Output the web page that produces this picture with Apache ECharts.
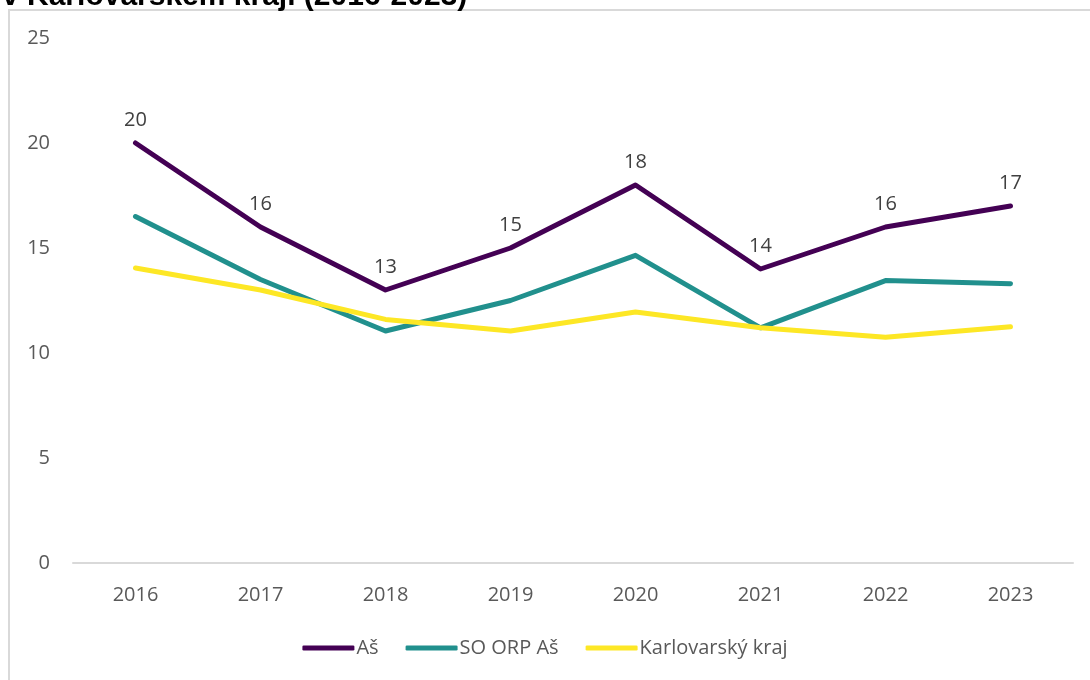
<!DOCTYPE html>
<html>
<head>
<meta charset="utf-8">
<script src="https://cdn.jsdelivr.net/npm/echarts@6/dist/echarts.min.js"></script>
<style>html,body{margin:0;padding:0;background:#fff}#c{width:1090px;height:680px}</style>
</head>
<body>
<div id="c"></div>
<script>
const titleText = 'v Karlovarském kraji (2016-2023)';
const years = ['2016','2017','2018','2019','2020','2021','2022','2023'];
const seriesNames = ['Aš', 'SO ORP Aš', 'Karlovarský kraj'];
const valAs = [20, 16, 13, 15, 18, 14, 16, 17];
const valOrp = [16.5, 13.5, 11.05, 12.5, 14.65, 11.2, 13.45, 13.3];
const valKraj = [14.05, 13.0, 11.6, 11.05, 11.95, 11.2, 10.75, 11.25];
const colors = ['#440154', '#21908d', '#fde725'];

const font = '"Open Sans", sans-serif';
const chart = echarts.init(document.getElementById('c'));
const mk = (name, data, color, labels) => ({
  name, type: 'line', data, symbol: 'circle', symbolSize: 0, showSymbol: true, smooth: false,
  lineStyle: { color, width: 5, cap: 'round', join: 'round' },
  itemStyle: { color },
  label: labels ? { show: true, position: 'top', distance: 13, color: '#404040', fontSize: 20, fontFamily: font } : { show: false },
  emphasis: { disabled: true }
});
chart.setOption({
  animation: false,
  backgroundColor: '#fff',
  graphic: [
    { type: 'rect', shape: { x: 9, y: 10, width: 1100, height: 700 }, style: { fill: 'none', stroke: '#d9d9d9', lineWidth: 2 }, z: -1 },
    { type: 'text', x: 2, y: 12, style: { text: titleText, font: 'bold 30px "Liberation Sans", Arial, sans-serif', fill: '#000', verticalAlign: 'bottom' } }
  ],
  grid: { left: 73, right: 17, top: 38, bottom: 117 },
  xAxis: {
    type: 'category', data: years, boundaryGap: true,
    axisLine: { lineStyle: { color: '#d9d9d9', width: 2 } },
    axisTick: { show: false },
    axisLabel: { color: '#595959', fontSize: 20, fontFamily: font, margin: 22 }
  },
  yAxis: {
    type: 'value', min: 0, max: 25, interval: 5,
    axisLine: { show: false }, axisTick: { show: false },
    splitLine: { show: false },
    axisLabel: { color: '#595959', fontSize: 20, fontFamily: font, margin: 23 }
  },
  legend: {
    bottom: 17, left: 'center', itemWidth: 52, itemHeight: 5, itemGap: 27,
    icon: 'roundRect',
    textStyle: { color: '#595959', fontSize: 20, fontFamily: font, padding: [0, 0, 0, -3] },
    data: seriesNames.map((n, i) => ({ name: n, itemStyle: { color: colors[i] } }))
  },
  series: [
    mk(seriesNames[0], valAs, colors[0], true),
    mk(seriesNames[1], valOrp, colors[1], false),
    mk(seriesNames[2], valKraj, colors[2], false)
  ]
});
</script>
</body>
</html>
